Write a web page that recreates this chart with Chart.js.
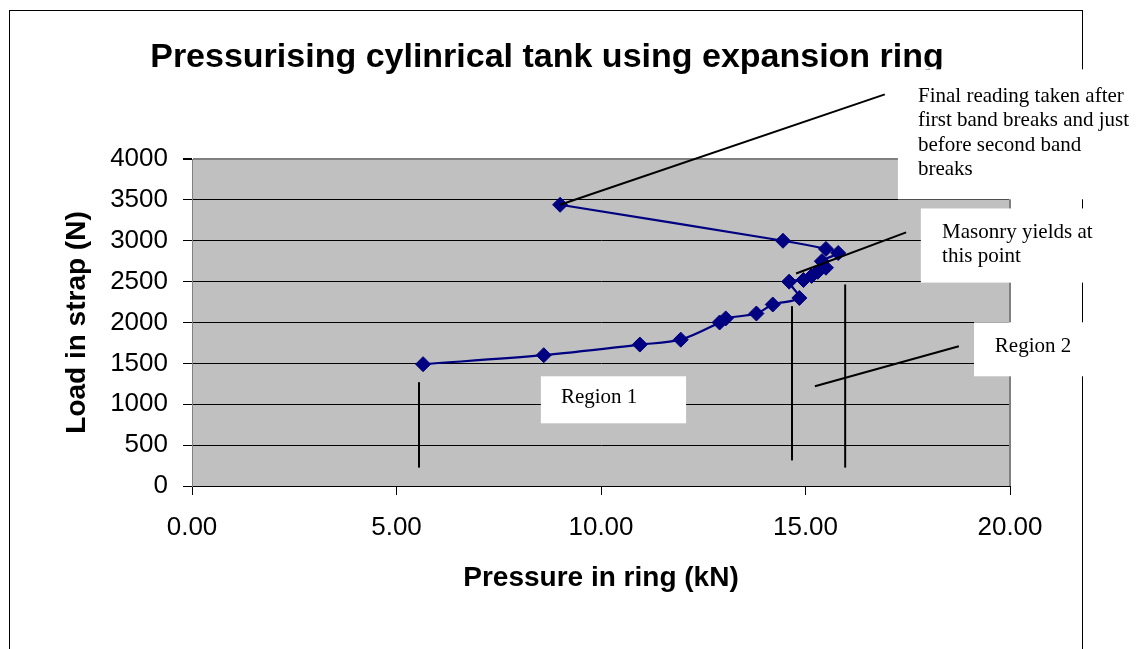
<!DOCTYPE html>
<html>
<head>
<meta charset="utf-8">
<title>Pressurising cylinrical tank using expansion ring</title>
<script src="https://cdn.jsdelivr.net/npm/chart.js@4"></script>
<style>
  html, body { margin: 0; padding: 0; background: #fff; }
  #wrap { width: 1146px; height: 649px; }
</style>
</head>
<body>
<div id="wrap"><canvas id="c" width="1146" height="649"></canvas></div>
<script>
// Readings: pressure in the ring (kN) against load in the strap (N)
const pressure = [5.65, 8.6, 10.95, 11.95, 12.9, 13.05, 13.8, 14.2, 14.85, 14.6,
                  14.95, 15.15, 15.3, 15.5, 15.4, 15.8, 15.5, 14.45, 9.0];
const load     = [1490, 1600, 1730, 1790, 2000, 2050, 2110, 2220, 2300, 2500,
                  2520, 2570, 2620, 2670, 2750, 2850, 2900, 3000, 3440];

// Axis ranges and tick steps
const xRange = [0, 20];
const xStep = 5;
const yRange = [0, 4000];
const yStep = 500;

// Text callouts, placed in data units (box: x0, x1, yTop, yBottom; at: first text line)
const notes = [
  { lines: ['Final reading taken after', 'first band breaks and just', 'before second band', 'breaks'],
    box: [17.26, 23.2, 5097, 3507], at: [17.75, 4767] },
  { lines: ['Masonry yields at', 'this point'],
    box: [17.82, 22.7, 3395, 2488], at: [18.34, 3103] },
  { lines: ['Region 2'],
    box: [19.12, 22.5, 2002, 1342], at: [19.63, 1709] },
  { lines: ['Region 1'],
    box: [8.53, 12.08, 1342, 767], at: [9.02, 1085] }
];

// Leader lines and region dividers, in data units
const leaders = [
  [[9.0, 3440], [16.94, 4791]],
  [[14.77, 2600], [17.46, 3102]],
  [[15.23, 1220], [18.75, 1709]],
  [[5.55, 1270], [5.55, 225]],
  [[14.67, 2200], [14.67, 313]],
  [[15.97, 2465], [15.97, 225]]
];

const SANS = '"Liberation Sans", Arial, sans-serif';
const SERIF = '"Liberation Serif", "Times New Roman", serif';

const points = pressure.map((p, i) => ({ x: p, y: load[i] }));

// Page frame, grey plot background and plot edge
const backdrop = {
  id: 'backdrop',
  beforeDraw(chart) {
    const { ctx, chartArea: a } = chart;
    ctx.save();
    ctx.fillStyle = '#fff';
    ctx.fillRect(0, 0, chart.width, chart.height);
    ctx.strokeStyle = '#000';
    ctx.lineWidth = 1;
    ctx.strokeRect(9.5, 10.5, 1073, 760);
    ctx.fillStyle = '#c0c0c0';
    ctx.fillRect(a.left, a.top, a.right - a.left, a.bottom - a.top);
    ctx.restore();
  },
  beforeDatasetsDraw(chart) {
    const { ctx, chartArea: a } = chart;
    ctx.save();
    ctx.strokeStyle = '#808080';
    ctx.lineWidth = 2;
    ctx.beginPath();
    ctx.moveTo(a.right, a.top);
    ctx.lineTo(a.right, a.bottom);
    ctx.stroke();
    ctx.restore();
  }
};

// Chart heading
const heading = {
  id: 'heading',
  afterDraw(chart) {
    const { ctx } = chart;
    ctx.save();
    ctx.fillStyle = '#000';
    ctx.font = 'bold 34px ' + SANS;
    ctx.textAlign = 'center';
    ctx.textBaseline = 'middle';
    ctx.fillText('Pressurising cylinrical tank using expansion ring', 547, 58);
    ctx.restore();
  }
};

// Callout boxes, leader lines and dividers
const callouts = {
  id: 'callouts',
  afterDraw(chart) {
    const { ctx } = chart;
    const xs = chart.scales.x, ys = chart.scales.y;
    const px = v => xs.getPixelForValue(v);
    const py = v => ys.getPixelForValue(v);
    ctx.save();
    ctx.strokeStyle = '#000';
    ctx.lineWidth = 2;
    leaders.forEach(([a, b]) => {
      ctx.beginPath();
      ctx.moveTo(px(a[0]), py(a[1]));
      ctx.lineTo(px(b[0]), py(b[1]));
      ctx.stroke();
    });
    notes.forEach(n => {
      const x0 = px(n.box[0]), x1 = px(n.box[1]);
      const y0 = py(n.box[2]), y1 = py(n.box[3]);
      ctx.fillStyle = '#fff';
      ctx.fillRect(x0, y0, x1 - x0, y1 - y0);
      ctx.fillStyle = '#000';
      ctx.font = '21px ' + SERIF;
      ctx.textAlign = 'left';
      ctx.textBaseline = 'middle';
      const tx = px(n.at[0]), ty = py(n.at[1]);
      n.lines.forEach((t, i) => ctx.fillText(t, tx, ty + i * 24.5));
    });
    ctx.restore();
  }
};

new Chart(document.getElementById('c'), {
  type: 'scatter',
  data: {
    datasets: [{
      data: points,
      showLine: true,
      borderColor: '#000080',
      backgroundColor: '#000080',
      borderWidth: 2.2,
      tension: 0.3,
      pointStyle: 'rectRot',
      pointRadius: 7.5,
      pointHoverRadius: 7.5,
      pointBorderWidth: 1,
      pointBorderColor: '#000080',
      pointBackgroundColor: '#000080',
      clip: false
    }]
  },
  options: {
    responsive: false,
    animation: false,
    devicePixelRatio: 1,
    layout: { padding: { left: 0, right: 136, top: 159, bottom: 0 } },
    plugins: {
      legend: { display: false },
      title: { display: false },
      tooltip: { enabled: false }
    },
    scales: {
      x: {
        type: 'linear',
        min: xRange[0],
        max: xRange[1],
        afterFit(scale) { scale.height = 163; },
        border: { display: true, color: '#000', width: 1 },
        grid: { drawOnChartArea: false, drawTicks: true, tickLength: 9, color: '#000', tickColor: '#000' },
        ticks: {
          stepSize: xStep,
          padding: 17,
          color: '#000',
          font: { family: SANS, size: 26 },
          maxRotation: 0,
          callback: v => Number(v).toFixed(2)
        },
        title: {
          display: true,
          text: 'Pressure in ring (kN)',
          color: '#000',
          font: { family: SANS, size: 28, weight: 'bold' },
          padding: { top: 0, bottom: 54 }
        }
      },
      y: {
        type: 'linear',
        min: yRange[0],
        max: yRange[1],
        afterFit(scale) { scale.width = 192; },
        border: { display: true, color: '#808080', width: 1 },
        grid: {
          drawOnChartArea: true,
          drawTicks: true,
          tickLength: 9,
          color: ctx => (ctx.tick && ctx.tick.value === yRange[1]) ? '#808080' : '#000',
          lineWidth: ctx => (ctx.tick && ctx.tick.value === yRange[1]) ? 2 : 1,
          tickColor: '#000'
        },
        ticks: {
          stepSize: yStep,
          padding: 15,
          color: '#000',
          font: { family: SANS, size: 26 },
          callback: v => String(v)
        },
        title: {
          display: true,
          text: 'Load in strap (N)',
          color: '#000',
          font: { family: SANS, size: 28, weight: 'bold' },
          padding: { top: 60, bottom: 0 }
        }
      }
    }
  },
  plugins: [backdrop, heading, callouts]
});
</script>
</body>
</html>
